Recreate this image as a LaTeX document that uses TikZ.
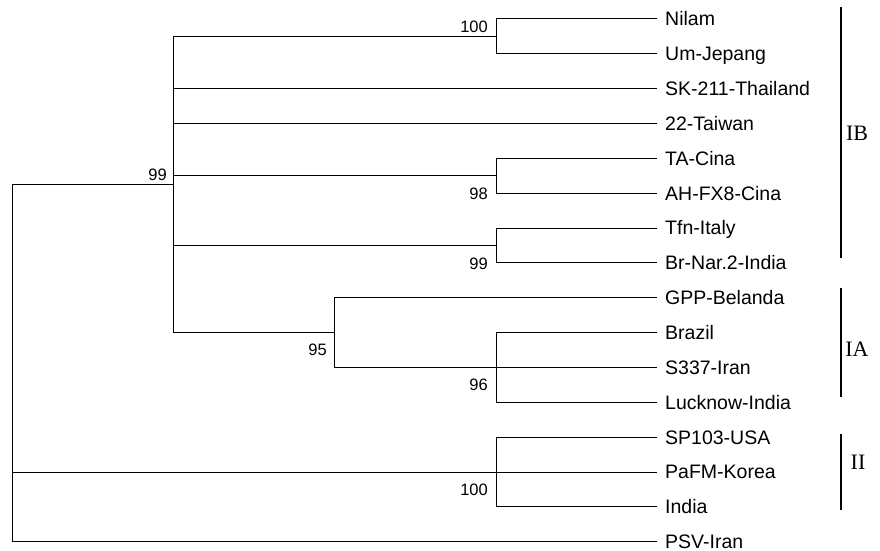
\documentclass[tikz,border=0pt]{standalone}
\usepackage{fontspec}
\setmainfont{Liberation Sans}
\newfontfamily\cladefont{Liberation Serif}
\begin{document}
\begin{tikzpicture}[x=1pt,y=-1pt,
  branch/.style={line width=1pt},
  leaflabel/.style={anchor=base west, inner sep=0pt, font=\fontsize{19.5}{20}\selectfont},
  boot/.style={anchor=base east, inner sep=0pt, font=\fontsize{16.5}{17}\selectfont},
  cladebar/.style={line width=1.3pt},
  cladelabel/.style={inner sep=0pt, font=\cladefont\fontsize{22}{22}\selectfont}]
\useasboundingbox (0,0) rectangle (880,551);
% leaves
\foreach \i/\t in {1/Nilam,2/Um-Jepang,3/SK-211-Thailand,4/22-Taiwan,5/TA-Cina,6/AH-FX8-Cina,7/Tfn-Italy,8/Br-Nar.2-India,9/GPP-Belanda,10/Brazil,11/S337-Iran,12/Lucknow-India,13/SP103-USA,14/PaFM-Korea,15/India,16/PSV-Iran}{
  \coordinate (e\i) at (657,{19+34.85*(\i-1)});
  \node[leaflabel] (l\i) at (665,{19+34.85*(\i-1)+6.8}) {\t};
}
% internal nodes
\coordinate (root) at (12,363);
\coordinate (A) at (173,184.5);
\coordinate (N100) at (496,36.4);
\coordinate (N98) at (496,175.85);
\coordinate (N99) at (496,245.55);
\coordinate (N95) at (334,332.7);
\coordinate (N96) at (496,367.5);
\coordinate (NII) at (496,472.05);
% branches
\draw[branch] (root) |- (A);
\draw[branch] (root) |- (NII);
\draw[branch] (root) |- (e16);
\draw[branch] (A) |- (N100);
\draw[branch] (A) |- (e3);
\draw[branch] (A) |- (e4);
\draw[branch] (A) |- (N98);
\draw[branch] (A) |- (N99);
\draw[branch] (A) |- (N95);
\draw[branch] (N100) |- (e1);
\draw[branch] (N100) |- (e2);
\draw[branch] (N98) |- (e5);
\draw[branch] (N98) |- (e6);
\draw[branch] (N99) |- (e7);
\draw[branch] (N99) |- (e8);
\draw[branch] (N95) |- (e9);
\draw[branch] (N95) |- (N96);
\draw[branch] (N96) |- (e10);
\draw[branch] (N96) |- (e11);
\draw[branch] (N96) |- (e12);
\draw[branch] (NII) |- (e13);
\draw[branch] (NII) |- (e14);
\draw[branch] (NII) |- (e15);
% bootstrap values
\node[boot] (b1) at (488,32.3) {100};
\node[boot] (b2) at (488,199) {98};
\node[boot] (b3) at (488,269) {99};
\node[boot] (b4) at (167,180) {99};
\node[boot] (b5) at (327,355.7) {95};
\node[boot] (b6) at (488,390) {96};
\node[boot] (b7) at (488,495) {100};
% clade bars
\coordinate (ibt) at (841,7);
\coordinate (ibb) at (841,258);
\coordinate (iat) at (841,288);
\coordinate (iab) at (841,396.5);
\coordinate (iit) at (841,434);
\coordinate (iib) at (841,510);
\draw[cladebar] (ibt) -- (ibb);
\draw[cladebar] (iat) -- (iab);
\draw[cladebar] (iit) -- (iib);
\node[cladelabel] (cIB) at (857,133.5) {IB};
\node[cladelabel] (cIA) at (857,349) {IA};
\node[cladelabel] (cII) at (858,462) {II};
\end{tikzpicture}
\end{document}
